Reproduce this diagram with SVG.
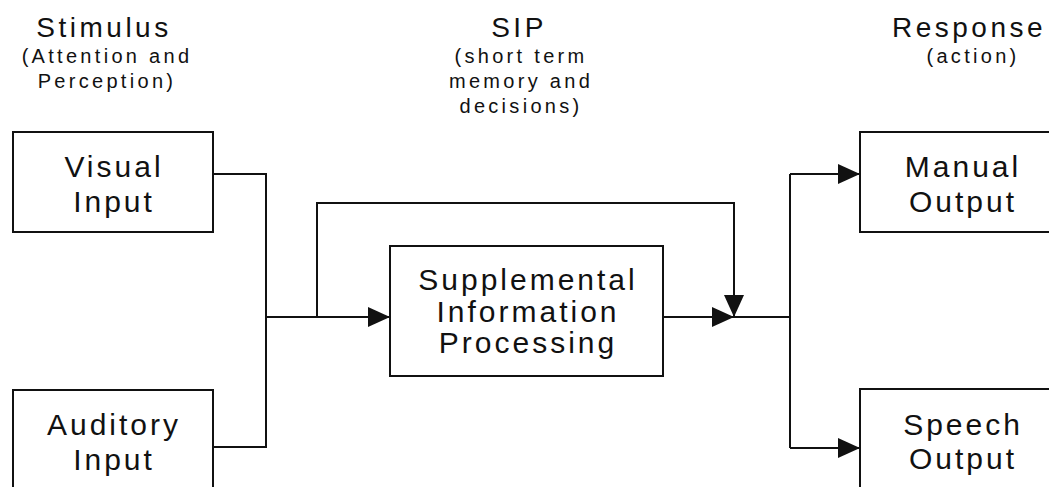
<svg xmlns="http://www.w3.org/2000/svg" width="1049" height="487" viewBox="0 0 1049 487">
<style>
.box{fill:#fff;stroke:#111;stroke-width:2}
.ln{fill:none;stroke:#111;stroke-width:2}
text{font-family:"Liberation Sans",Arial,sans-serif;fill:#111;text-anchor:middle}
.h{font-size:28px;letter-spacing:3.5px}
.s{font-size:20px;letter-spacing:3.3px}
.b{font-size:30px;letter-spacing:3px}
</style>
<defs>
<marker id="arr" viewBox="0 0 22 20" refX="22" refY="10" markerWidth="22" markerHeight="20" markerUnits="userSpaceOnUse" orient="auto">
<path d="M0,0 L22,10 L0,20 z" fill="#111"/>
</marker>
</defs>
<g id="headers">
<text class="h" x="104" y="37">Stimulus</text>
<text class="s" x="107" y="63">(Attention and</text>
<text class="s" x="107" y="88">Perception)</text>
<text class="h" x="519" y="37">SIP</text>
<text class="s" x="521" y="63">(short term</text>
<text class="s" x="521" y="88">memory and</text>
<text class="s" x="521" y="113">decisions)</text>
<text class="h" x="969" y="37">Response</text>
<text class="s" x="973" y="63">(action)</text>
</g>
<g id="connectors">
<path class="ln" d="M213 174 H266 V447 H213"/>
<path class="ln" d="M266 317 H390" marker-end="url(#arr)"/>
<path class="ln" d="M317 317 V203 H734 V317" marker-end="url(#arr)"/>
<path class="ln" d="M663 317 H734" marker-end="url(#arr)"/>
<path class="ln" d="M734 317 H790"/>
<path class="ln" d="M790 174 V448"/>
<path class="ln" d="M790 174 H860" marker-end="url(#arr)"/>
<path class="ln" d="M790 448 H860" marker-end="url(#arr)"/>
</g>
<g id="visual">
<rect class="box" x="13" y="132" width="200" height="100"/>
<text class="b" x="114" y="177">Visual</text>
<text class="b" x="114" y="212">Input</text>
</g>
<g id="auditory">
<rect class="box" x="13" y="390" width="200" height="110"/>
<text class="b" x="114" y="435">Auditory</text>
<text class="b" x="114" y="470">Input</text>
</g>
<g id="sip">
<rect class="box" x="390" y="246" width="273" height="130"/>
<text class="b" x="528" y="290">Supplemental</text>
<text class="b" x="528" y="322">Information</text>
<text class="b" x="528" y="353">Processing</text>
</g>
<g id="manual">
<rect class="box" x="860" y="132" width="200" height="100"/>
<text class="b" x="963" y="177">Manual</text>
<text class="b" x="963" y="212">Output</text>
</g>
<g id="speech">
<rect class="box" x="860" y="389" width="200" height="110"/>
<text class="b" x="963" y="435">Speech</text>
<text class="b" x="963" y="469">Output</text>
</g>
</svg>
